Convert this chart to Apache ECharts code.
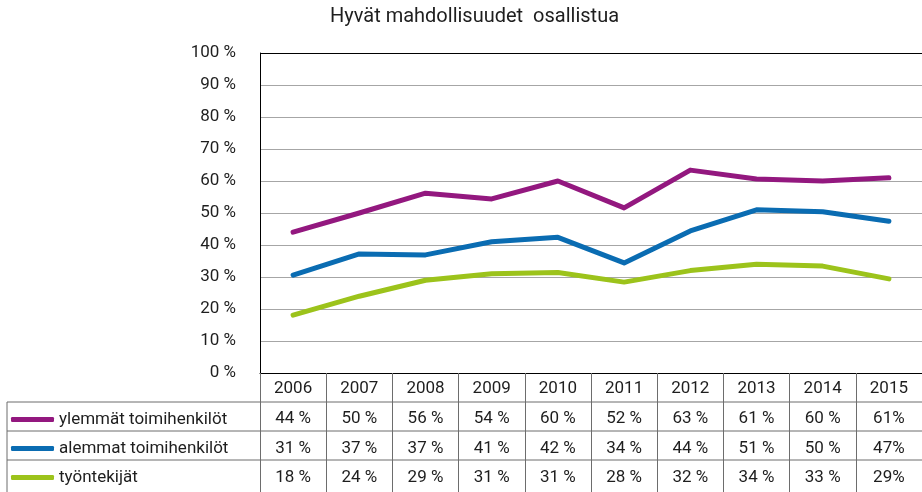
<!DOCTYPE html>
<html>
<head>
<meta charset="utf-8">
<script src="https://cdn.jsdelivr.net/npm/echarts@6/dist/echarts.min.js"></script>
<style>
  html, body { margin: 0; padding: 0; background: #fff; }
  #chart { width: 922px; height: 492px; }
</style>
</head>
<body>
<div id="chart"></div>
<script>
var years = ['2006', '2007', '2008', '2009', '2010', '2011', '2012', '2013', '2014', '2015'];
var seriesNames = ['ylemmät toimihenkilöt', 'alemmat toimihenkilöt', 'työntekijät'];
var ylemmat = [44, 50, 56.2, 54.4, 60, 51.6, 63.4, 60.6, 60, 61];
var alemmat = [30.6, 37.2, 36.9, 41, 42.4, 34.4, 44.4, 51, 50.4, 47.4];
var tyontekijat = [18.1, 24, 29, 31, 31.4, 28.4, 32, 34, 33.4, 29.4];
var yTicks = [0, 10, 20, 30, 40, 50, 60, 70, 80, 90, 100];
var colors = ['#93187f', '#0a6cb2', '#9cc31b'];

var font = 'Roboto, "Liberation Sans", sans-serif';
var txt = '#1e1e1e';
var fs = 17;
var allValues = [ylemmat, alemmat, tyontekijat];

// taulukon rivit: x-akselit eri offseteilla
var rowOffsets = [30, 60, 89];
var legendTops = [411, 440, 469];

function pct(v, i) {
    // viimeisessä sarakkeessa ei välilyöntiä
    return Math.round(v) + (i == years.length - 1 ? '%' : ' %');
}

var xAxes = [{
    type: 'category',
    data: years,
    position: 'bottom',
    axisLine: { lineStyle: { color: '#000', width: 1 } },
    axisTick: { show: true, length: 119, interval: 0, lineStyle: { color: '#6d6d6d' } },
    axisLabel: { margin: 7, fontSize: fs, color: txt, fontFamily: font, interval: 0 }
}];
allValues.forEach(function (vals, k) {
    xAxes.push({
        type: 'category',
        data: years,
        position: 'bottom',
        offset: rowOffsets[k],
        axisLine: { show: false },
        axisTick: { show: false },
        axisLabel: {
            margin: 7, fontSize: fs, color: txt, fontFamily: font, interval: 0,
            formatter: function (v, i) { return pct(vals[i], i); }
        }
    });
});

var gridColors = yTicks.map(function (t) { return t == 100 ? '#000' : '#a6a6a6'; });

var legends = seriesNames.map(function (n, k) {
    return {
        data: [n],
        left: 11,
        top: legendTops[k],
        padding: 0,
        icon: 'roundRect',
        itemWidth: 43,
        itemHeight: 5,
        selectedMode: false,
        textStyle: { fontSize: fs, color: txt, fontFamily: font }
    };
});

var tableLines = [402, 431, 460].map(function (y) {
    return { type: 'line', shape: { x1: 7, y1: y, x2: 927, y2: y }, style: { stroke: '#6d6d6d', lineWidth: 1 } };
});
tableLines.push({ type: 'line', shape: { x1: 7, y1: 402, x2: 7, y2: 492 }, style: { stroke: '#6d6d6d', lineWidth: 1 } });

var chart = echarts.init(document.getElementById('chart'));
chart.setOption({
    animation: false,
    color: colors,
    title: {
        text: 'Hyvät mahdollisuudet  osallistua',
        left: 330,
        top: 7,
        padding: 0,
        textStyle: { fontSize: 20, fontWeight: 'normal', color: txt, fontFamily: font }
    },
    grid: { left: 260, top: 53, width: 667, height: 320 },
    legend: legends,
    xAxis: xAxes,
    yAxis: {
        type: 'value',
        min: 0,
        max: 100,
        interval: 10,
        axisLine: { show: true, lineStyle: { color: '#000', width: 1 } },
        axisTick: { show: false },
        axisLabel: { margin: 24, fontSize: fs, color: txt, fontFamily: font, formatter: '{value} %' },
        splitLine: { show: true, lineStyle: { color: gridColors, width: 1 } }
    },
    graphic: tableLines,
    series: allValues.map(function (vals, k) {
        return {
            name: seriesNames[k],
            type: 'line',
            data: vals,
            symbol: 'none',
            lineStyle: { width: 5, cap: 'round', join: 'round' }
        };
    })
});
</script>
</body>
</html>
